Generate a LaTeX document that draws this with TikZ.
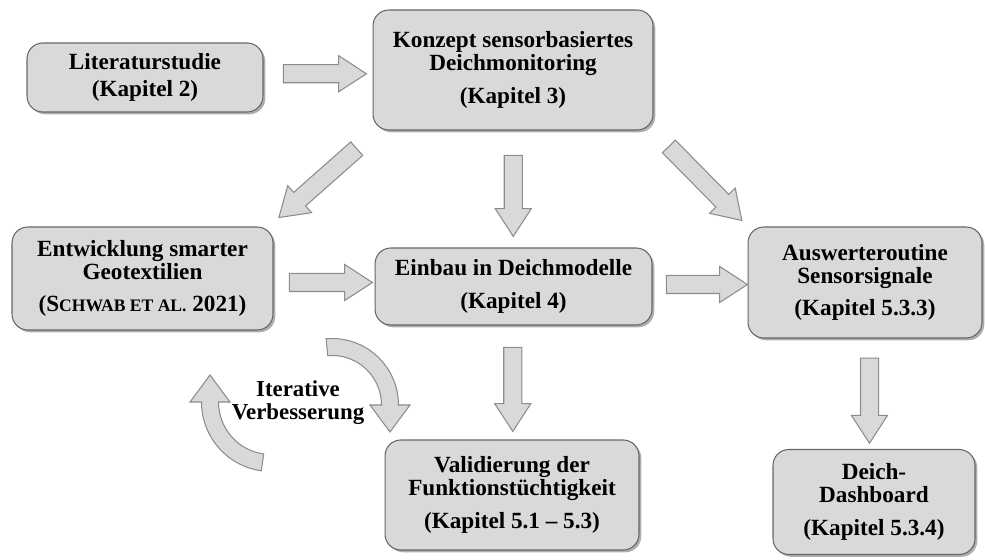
\documentclass[tikz,border=0pt]{standalone}
\usepackage{fontspec}
\setmainfont{Liberation Serif}
\usetikzlibrary{shapes.arrows,shadows,calc}

\definecolor{boxfill}{HTML}{D9D9D9}
\definecolor{boxline}{HTML}{666666}
\definecolor{arrowline}{HTML}{8C8C8C}

\tikzset{
  stage/.style={rounded corners=9pt, draw=boxline, fill=boxfill, line width=0.6pt,
    align=center, inner sep=0pt, font=\bfseries\fontsize{13.2}{13}\selectfont,
    drop shadow={shadow xshift=1.3pt, shadow yshift=-1.3pt, opacity=0.45, fill=black!70}},
  barrow/.style={single arrow, draw=arrowline, fill=boxfill, line width=0.6pt,
    inner xsep=0pt, inner ysep=0.17cm, single arrow head extend=0.18cm,
    single arrow tip angle=66, minimum height=#1},
  barrow/.default=1.66cm,
  bendarrow/.style={draw=arrowline, fill=boxfill, line width=0.6pt}
}

\begin{document}
\begin{tikzpicture}[x=0.02cm, y=-0.02cm]
\useasboundingbox (0,0) rectangle (985,560);

\begin{scope}[every node/.style={stage}]
    \node[minimum width=4.72cm, minimum height=1.38cm] (lit) at (145,77.5) {Literaturstudie\\[2pt](Kapitel 2)};
    \node[minimum width=5.6cm, minimum height=2.4cm] (konz) at (513,70) {Konzept sensorbasiertes\\Deichmonitoring\\[5.5pt](Kapitel 3)};

    \node[minimum width=5.22cm, minimum height=2.06cm] (entw) at (142.5,278.5) {Entwicklung smarter\\Geotextilien\\[5.5pt](S{\fontsize{10}{10}\selectfont CHWAB ET AL.} 2021)};
    \node[minimum width=5.54cm, minimum height=1.54cm] (einb) at (513.5,286.5) {Einbau in Deichmodelle\\[5.5pt](Kapitel 4)};
    \node[minimum width=4.68cm, minimum height=2.22cm] (ausw) at (865,282.5) {Auswerteroutine\\Sensorsignale\\[5.5pt](Kapitel 5.3.3)};

    \node[minimum width=5.08cm, minimum height=2.2cm] (vali) at (512,495) {Validierung der\\Funktionst\"uchtigkeit\\[5.5pt](Kapitel 5.1 -- 5.3)};
    \node[minimum width=4.04cm, minimum height=2.1cm] (dash) at (874,502) {Deich-\\Dashboard\\[5.5pt](Kapitel 5.3.4)};
\end{scope}

\begin{scope}[every node/.style={barrow}]
    \node (a1) at ($(lit.east)!0.5!(konz.west)$) {};
    \node[barrow=2.08cm, rotate=221.5] (a2) at ($(konz.south west)!0.5!(entw.north east)$) {};
    \node[barrow=1.62cm, rotate=-90] (a3) at ($(konz.south)!0.5!(einb.north)$) {};
    \node[barrow=2.08cm, rotate=-45.4] (a4) at ($(konz.south east)!0.5!(ausw.north west)$) {};

    \node (a5) at ($(entw.east)!0.5!(einb.west)$) {};
    \node[barrow=1.62cm] (a6) at ($(einb.east)!0.5!(ausw.west)$) {};
    \node[barrow=1.68cm, rotate=-90] (a7) at ($(einb.south)!0.5!(vali.north)$) {};
    \node[barrow=1.7cm, rotate=-90] (a8) at ($(ausw.south)!0.5!(dash.north)$) {};
\end{scope}

% iterative loop
\coordinate (upc) at (332,405);
\coordinate (loc) at (271,402);
\path[bendarrow] ($(upc)+(-95:66.5)$) arc[start angle=-95, end angle=0, radius=66.5]
    -- (410,405) -- (390,432) -- (370,405) -- (381.5,405)
    arc[start angle=0, end angle=-95, radius=49.5] -- cycle;
\path[bendarrow] ($(loc)+(98:69.5)$) arc[start angle=98, end angle=180, radius=69.5]
    -- (190,402) -- (210,375) -- (230,402) -- (218.5,402)
    arc[start angle=180, end angle=98, radius=52.5] -- cycle;
\node[align=center, font=\bfseries\fontsize{13}{13}\selectfont] (iter) at (298,403) {Iterative\\Verbesserung};

\end{tikzpicture}
\end{document}
